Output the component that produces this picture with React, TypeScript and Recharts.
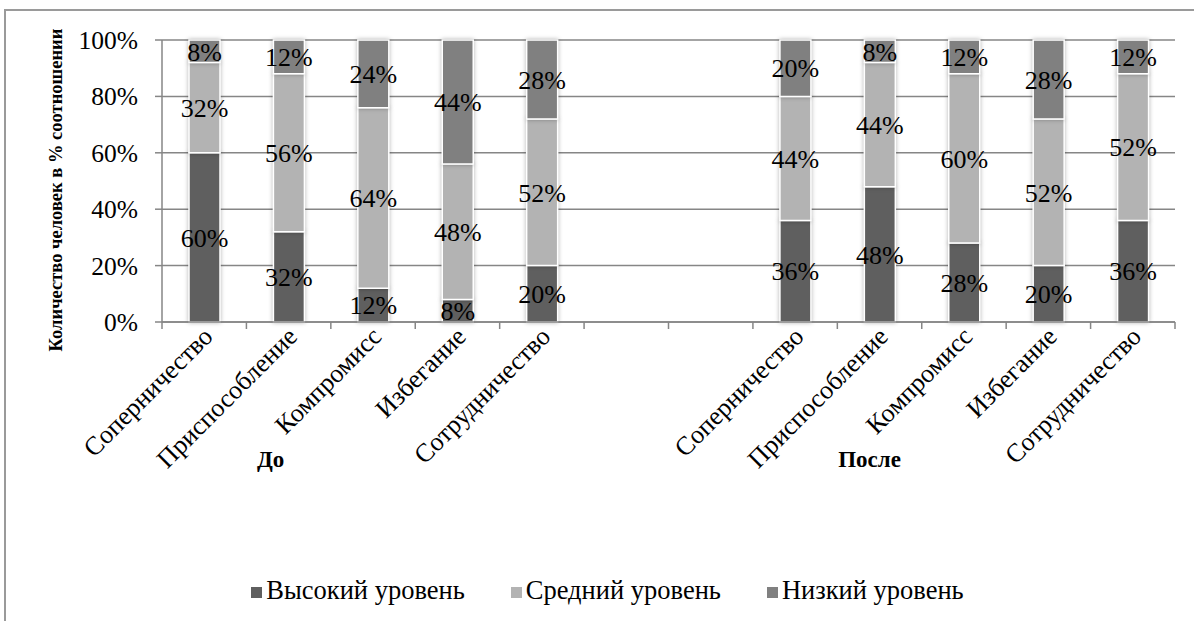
import { BarChart, Bar, XAxis, YAxis, CartesianGrid, Legend, LabelList } from 'recharts'

const FONT = '"Liberation Serif", "Times New Roman", serif'

// two blocks of five strategies with an empty gap of two slots between them
const strategies = [
  'Соперничество', 'Приспособление', 'Компромисс', 'Избегание', 'Сотрудничество',
  '', '',
  'Соперничество', 'Приспособление', 'Компромисс', 'Избегание', 'Сотрудничество',
]
const groups = ['', 'До', '', '', '', '', '', '', 'После', '', '', '']

const highLevel = [60, 32, 12, 8, 20, null, null, 36, 48, 28, 20, 36]
const midLevel = [32, 56, 64, 48, 52, null, null, 44, 44, 60, 52, 52]
const lowLevel = [8, 12, 24, 44, 28, null, null, 20, 8, 12, 28, 12]

const yTicks = [0, 20, 40, 60, 80, 100]
const seriesOrder = ['high', 'mid', 'low']

const data = strategies.map((name, i) => ({
  key: `s${i}`,
  name,
  group: groups[i],
  high: highLevel[i],
  mid: midLevel[i],
  low: lowLevel[i],
}))

const AXIS_GRAY = '#868686'

const pct = (v: unknown) => (v === null || v === undefined ? '' : `${v}%`)

// category label plus the small marks on the slot boundaries
function CategoryTick({ x, y, payload, index, visibleTicksCount }: any) {
  const half = payload?.offset ?? 0
  const isLast = index === visibleTicksCount - 1
  return (
    <g>
      <line x1={x - half} x2={x - half} y1={y} y2={y + 7} stroke={AXIS_GRAY} strokeWidth={1.5} />
      {isLast && <line x1={x + half} x2={x + half} y1={y} y2={y + 7} stroke={AXIS_GRAY} strokeWidth={1.5} />}
      {payload?.value ? (
        <text
          x={x + 10}
          y={y + 16}
          transform={`rotate(-45, ${x + 10}, ${y + 16})`}
          textAnchor="end"
          fontSize={26}
          fill="#000"
        >
          {payload.value}
        </text>
      ) : null}
    </g>
  )
}

const groupShift: Record<string, number> = { 'До': -18, 'После': -10 }

function GroupTick({ x, y, payload }: any) {
  if (!payload?.value) return null
  return (
    <text
      x={x + (groupShift[payload.value] ?? 0)}
      y={y + 22}
      textAnchor="middle"
      fontSize={23}
      fontWeight="bold"
      fill="#000"
    >
      {payload.value}
    </text>
  )
}

const legendText = (value: string) => (
  <span style={{ color: '#000', marginRight: 36 }}>{value}</span>
)

export default function App() {
  return (
    <div style={{ position: 'absolute', left: 0, top: 0, width: 1194, height: 621, background: '#fff', overflow: 'hidden', fontFamily: FONT }}>
      <style>{`
        .chart svg text, .chart svg tspan { font-family: ${FONT}; }
        .recharts-bar-rectangle path { filter: drop-shadow(0 0 2px rgba(0,0,0,0.3)); }
      `}</style>
      <div
        style={{
          position: 'absolute', left: 4, top: 9, width: 1300, height: 700,
          borderLeft: '2px solid #9a9a9a', borderTop: '2px solid #9a9a9a',
        }}
      />
      <div className="chart" style={{ position: 'absolute', left: 0, top: 0 }}>
        <BarChart
          width={1194}
          height={621}
          data={data}
          margin={{ top: 40, right: 19, left: 0, bottom: 16 }}
          barSize={31}
        >
          <CartesianGrid vertical={false} stroke={AXIS_GRAY} strokeWidth={1.5} />
          <XAxis
            xAxisId="b_cat"
            dataKey="name"
            interval={0}
            height={123}
            tickSize={0}
            tickMargin={0}
            axisLine={{ stroke: AXIS_GRAY, strokeWidth: 1.5 }}
            tickLine={false}
            tick={<CategoryTick />}
          />
          <XAxis
            xAxisId="c_grp"
            dataKey="group"
            interval={0}
            height={130}
            axisLine={false}
            tickLine={false}
            tickSize={0}
            tickMargin={0}
            tick={<GroupTick />}
          />
          <YAxis
            width={162}
            domain={[0, 100]}
            ticks={yTicks}
            tickFormatter={(v) => `${v}%`}
            tickSize={7}
            tickMargin={17}
            axisLine={{ stroke: AXIS_GRAY, strokeWidth: 1.5 }}
            tickLine={{ stroke: AXIS_GRAY, strokeWidth: 1.5 }}
            tick={{ fontSize: 25.5, fill: '#000' }}
            label={{
              content: () => (
                <text
                  x={62}
                  y={190}
                  transform="rotate(-90, 62, 190)"
                  textAnchor="middle"
                  fontSize={18.5}
                  fontWeight="bold"
                  fill="#000"
                >
                  Количество человек в % соотношении
                </text>
              ),
            }}
          />
          <Legend
            verticalAlign="bottom"
            height={30}
            iconType="square"
            iconSize={11}
            formatter={legendText}
            itemSorter={(item: any) => seriesOrder.indexOf(item.dataKey)}
            wrapperStyle={{ fontSize: 26.5, fontFamily: FONT, lineHeight: '30px', paddingLeft: 86, boxSizing: 'border-box' }}
          />
          <Bar xAxisId="b_cat" dataKey="high" name="Высокий уровень" stackId="a" fill="#5f5f5f" stroke="#fff" strokeWidth={1.5} isAnimationActive={false}>
            <LabelList dataKey="high" position="center" formatter={pct} fontSize={26} fill="#000" />
          </Bar>
          <Bar xAxisId="b_cat" dataKey="mid" name="Средний уровень" stackId="a" fill="#b3b3b3" stroke="#fff" strokeWidth={1.5} isAnimationActive={false}>
            <LabelList dataKey="mid" position="center" formatter={pct} fontSize={26} fill="#000" />
          </Bar>
          <Bar xAxisId="b_cat" dataKey="low" name="Низкий уровень" stackId="a" fill="#808080" stroke="#fff" strokeWidth={1.5} isAnimationActive={false}>
            <LabelList dataKey="low" position="center" formatter={pct} fontSize={26} fill="#000" />
          </Bar>
        </BarChart>
      </div>
    </div>
  )
}
